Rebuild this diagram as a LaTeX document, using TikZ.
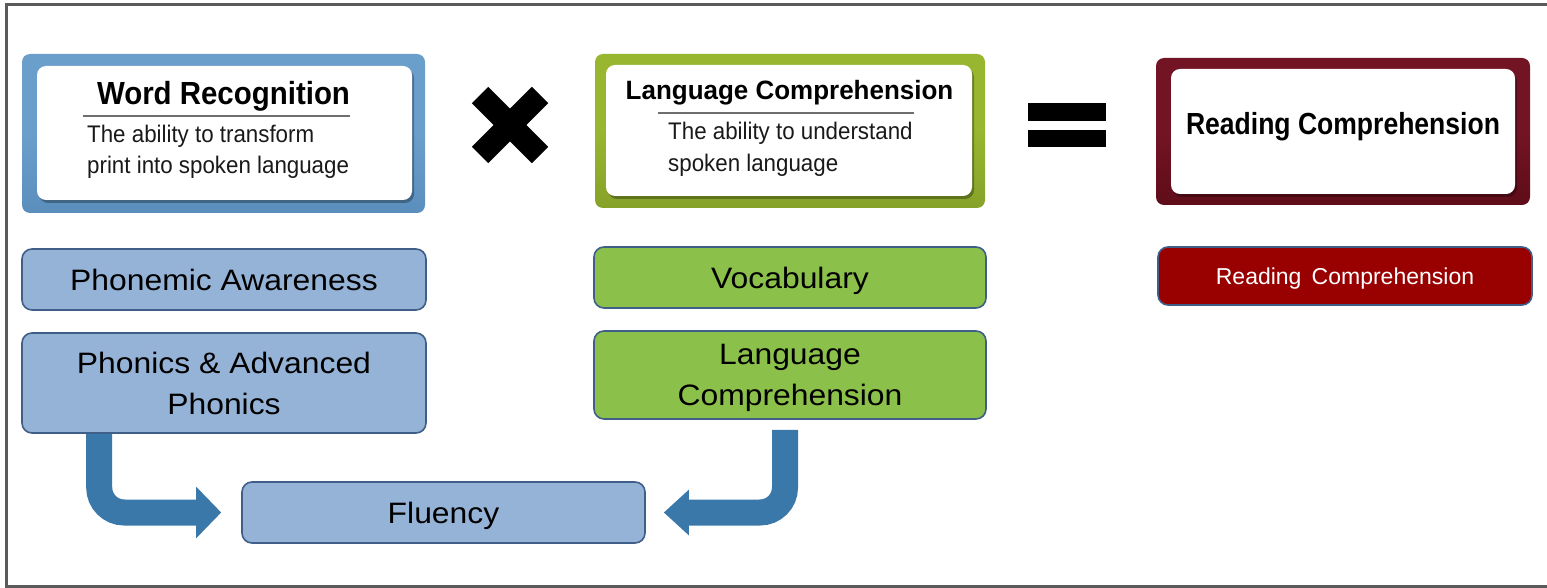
\documentclass[tikz,border=0pt]{standalone}
\usepackage{fontspec}
\setmainfont{Liberation Sans}
\newfontfamily\wrtitlefont[FakeStretch=0.92]{Liberation Sans}
\newfontfamily\lctitlefont[FakeStretch=0.98]{Liberation Sans}
\newfontfamily\rctitlefont[FakeStretch=0.87]{Liberation Sans}
\newfontfamily\bodyfont[FakeStretch=0.93]{Liberation Sans}
\newfontfamily\skillfont[FakeStretch=1.08]{Liberation Sans}
\usetikzlibrary{arrows.meta,shadows,calc}

\definecolor{wrblue}{HTML}{6A9FCC}
\definecolor{wrbluedark}{HTML}{5A8EBD}
\definecolor{lcgreen}{HTML}{98B630}
\definecolor{lcgreendark}{HTML}{86A229}
\definecolor{rcmaroon}{HTML}{731424}
\definecolor{rcmaroondark}{HTML}{5F0C19}
\definecolor{paleblue}{HTML}{95B3D7}
\definecolor{leafgreen}{HTML}{8BC04B}
\definecolor{darkred}{HTML}{990000}
\definecolor{edgeblue}{HTML}{3F5F88}
\definecolor{arrowblue}{HTML}{3B78AA}
\definecolor{framegray}{HTML}{5A5A5A}
\definecolor{rulegray}{HTML}{6E6E6E}

\begin{document}
\begin{tikzpicture}[x=1pt,y=-1pt,
  frame/.style={rounded corners=8pt, inner sep=0pt, draw=none},
  card/.style={fill=white, rounded corners=9pt, inner sep=0pt,
    drop shadow={shadow xshift=2pt, shadow yshift=-3pt, opacity=0.3, fill=black}},
  wrtitle/.style={inner sep=0pt, font=\wrtitlefont\bfseries\fontsize{32}{36}\selectfont},
  lctitle/.style={inner sep=0pt, font=\lctitlefont\bfseries\fontsize{26.5}{30}\selectfont},
  rctitle/.style={inner sep=0pt, font=\rctitlefont\bfseries\fontsize{30.5}{34}\selectfont},
  body/.style={inner sep=0pt, text=black!90, font=\bodyfont\fontsize{24}{31}\selectfont},
  headrule/.style={draw=rulegray, line width=1.5pt},
  skill/.style={draw=edgeblue, line width=1.6pt, rounded corners=10pt, inner sep=0pt,
    align=center, font=\skillfont\fontsize{29.5}{41}\selectfont},
  oneline/.style={text height=21pt, text depth=0pt},
  fatarrow/.style={draw=arrowblue, line width=26pt, rounded corners=25pt},
  symbolbar/.style={fill=black}
]
\useasboundingbox (0,0) rectangle (1547,588);

% page frame, open on the right
\draw[framegray, line width=3pt] (1547,4.5) -- (6.5,4.5) -- (6.5,586.5) -- (1547,586.5);

% ---- Word Recognition card
\node[frame, top color=wrblue, bottom color=wrbluedark, middle color=wrblue,
  minimum width=403pt, minimum height=159pt] (wrout) at (223.5,133.5) {};
\node[card, minimum width=375pt, minimum height=134pt] (wrin) at (224.5,133) {};
\node[wrtitle, anchor=base] (wrt) at (223.5,105) {Word Recognition};
\draw[headrule] (83,116) -- (350,116);
\node[body, anchor=base west] (wrl1) at (87,143) {The ability to transform};
\node[body, anchor=base west] (wrl2) at (87,174) {print into spoken language};

% ---- multiplication sign
\draw[black, line width=23pt] (480,95) -- (540,155);
\draw[black, line width=23pt] (480,155) -- (540,95);

% ---- Language Comprehension card
\node[frame, top color=lcgreen, bottom color=lcgreendark, middle color=lcgreen,
  minimum width=390pt, minimum height=154pt] (lcout) at (790,131) {};
\node[card, minimum width=366pt, minimum height=131pt] (lcin) at (789,130.5) {};
\node[lctitle, anchor=base] (lct) at (789.5,100) {Language Comprehension};
\draw[headrule] (658,113) -- (914,113);
\node[body, anchor=base west] (lcl1) at (668,140) {The ability to understand};
\node[body, anchor=base west] (lcl2) at (668,172) {spoken language};

% ---- equals sign
\fill[symbolbar] (1028,103) rectangle (1106,121);
\fill[symbolbar] (1028,130) rectangle (1106,147);

% ---- Reading Comprehension card
\node[frame, top color=rcmaroon, bottom color=rcmaroondark, middle color=rcmaroon,
  minimum width=374pt, minimum height=147pt] (rcout) at (1343,131.5) {};
\node[card, minimum width=344pt, minimum height=125pt] (rcin) at (1343,131.5) {};
\node[rctitle, anchor=base] (rct) at (1343,135) {Reading Comprehension};

% ---- component skills
\node[skill, oneline, fill=paleblue, minimum width=404pt, minimum height=61pt] (pa) at (224,279.5) {Phonemic Awareness};
\node[skill, fill=paleblue, minimum width=404pt, minimum height=100pt, text depth=-6pt] (ph) at (224,383) {Phonics \& Advanced\\Phonics};
\node[skill, oneline, fill=leafgreen, minimum width=392pt, minimum height=61pt] (voc) at (790,277.5) {Vocabulary};
\node[skill, fill=leafgreen, minimum width=392pt, minimum height=88pt, text depth=-3pt] (lc) at (790,375) {Language\\Comprehension};
\node[skill, fill=darkred, text=white, minimum width=374pt, minimum height=58pt,
  font=\fontsize{23}{28}\selectfont, text height=16.5pt, text depth=0pt] (rc) at (1345,276) {Reading\ \,Comprehension};
\node[skill, oneline, fill=paleblue, minimum width=403pt, minimum height=61pt] (flu) at (443.5,512.5) {Fluency};

% ---- both strands feed fluency
\draw[fatarrow, -{Triangle[length=25pt,width=50pt]}]
  ($(ph.south west)+(78,0)$) |- ([xshift=-20pt]flu.west);
\draw[fatarrow, -{Triangle[length=25pt,width=44pt]}]
  ($(lc.south)+(-5,10)$) |- ([xshift=18pt]flu.east);
\end{tikzpicture}
\end{document}
